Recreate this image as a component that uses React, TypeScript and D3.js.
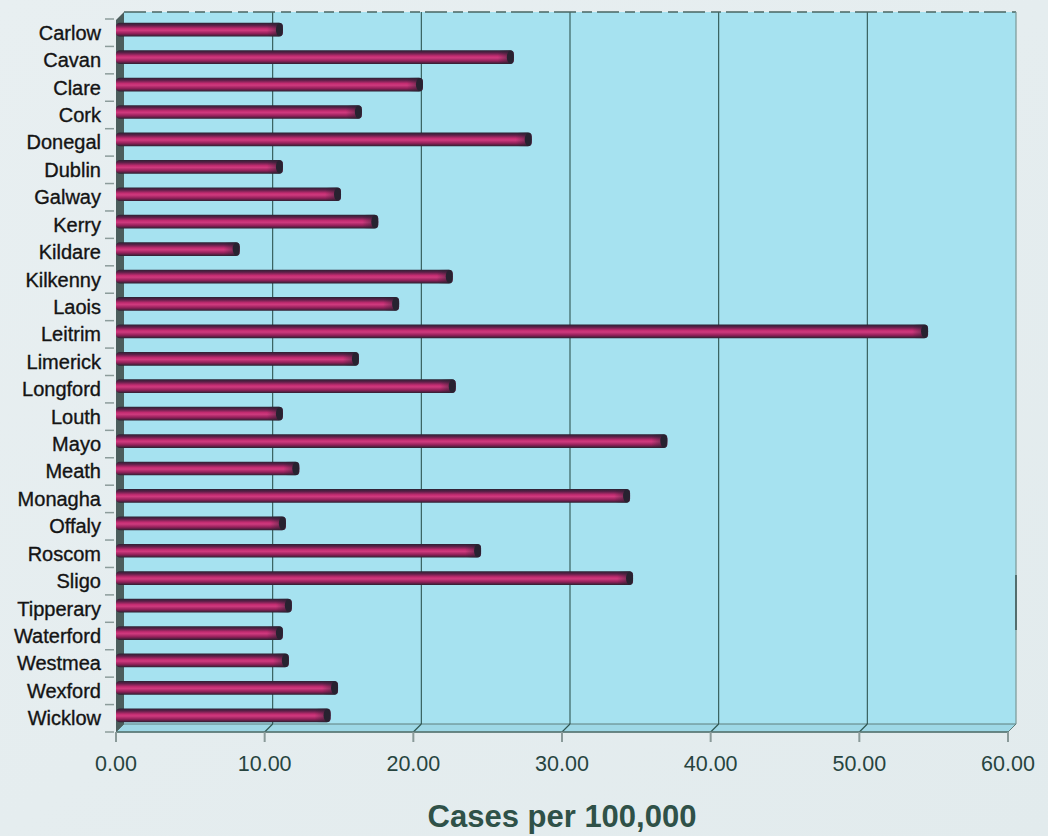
import React from "react";
import * as d3 from "d3";

// Counties and rates (cases per 100,000)
const categories = [
  "Carlow", "Cavan", "Clare", "Cork", "Donegal", "Dublin", "Galway", "Kerry",
  "Kildare", "Kilkenny", "Laois", "Leitrim", "Limerick", "Longford", "Louth",
  "Mayo", "Meath", "Monagha", "Offaly", "Roscom", "Sligo", "Tipperary",
  "Waterford", "Westmea", "Wexford", "Wicklow",
];
const values = [
  11.0, 26.5, 20.4, 16.3, 27.7, 11.0, 14.9, 17.4,
  8.1, 22.4, 18.8, 54.3, 16.1, 22.6, 11.0,
  36.8, 12.1, 34.3, 11.2, 24.3, 34.5, 11.6,
  11.0, 11.4, 14.7, 14.2,
];
const xTicks = [0, 10, 20, 30, 40, 50, 60];
const gridTicks = [10, 20, 30, 40, 50];
const xTitle = "Cases per 100,000";

const W = 1048;
const H = 836;
const DEPTH = 8; // 3D offset of the back wall
const WALL_TOP = 12;
const FLOOR_FRONT = 732;
const FLOOR_BACK = FLOOR_FRONT - DEPTH;

export default function App() {
  const xFront = d3.scaleLinear().domain([0, 60]).range([116, 1008]);
  const xBack = d3.scaleLinear().domain([0, 60]).range([116 + DEPTH, 1008 + DEPTH]);
  const xBar = d3.scaleLinear().domain([0, 60]).range([119, 1013]);
  const y = d3
    .scaleBand<string>()
    .domain(categories)
    .range([19, FLOOR_FRONT])
    .paddingInner(0.5)
    .paddingOuter(0.25);
  const step = y.step();
  const bw = y.bandwidth();
  const data = categories.map((c, i) => ({ c, v: values[i] }));

  return (
    <svg
      width={W}
      height={H}
      style={{ position: "absolute", left: 0, top: 0, display: "block" }}
      fontFamily="'Liberation Sans', Arial, sans-serif"
    >
      <defs>
        <linearGradient id="barGrad" x1="0" y1="0" x2="0" y2="1">
          <stop offset="0%" stopColor="#2a2333" />
          <stop offset="18%" stopColor="#5c1f48" />
          <stop offset="42%" stopColor="#c32c71" />
          <stop offset="55%" stopColor="#cf3a7e" />
          <stop offset="78%" stopColor="#93205a" />
          <stop offset="100%" stopColor="#2a2030" />
        </linearGradient>
        <linearGradient id="endShade" x1="0" y1="0" x2="1" y2="0">
          <stop offset="0%" stopColor="#2a2231" stopOpacity="0" />
          <stop offset="100%" stopColor="#2a2231" stopOpacity="0.75" />
        </linearGradient>
        <linearGradient id="pageBg" x1="0" y1="0" x2="1" y2="1">
          <stop offset="0%" stopColor="#e8eff1" />
          <stop offset="100%" stopColor="#e2ebed" />
        </linearGradient>
      </defs>

      <rect x={0} y={0} width={W} height={H} fill="url(#pageBg)" />

      {/* back wall */}
      <rect
        x={xBack(0)}
        y={WALL_TOP}
        width={xBack(60) - xBack(0)}
        height={FLOOR_BACK - WALL_TOP}
        fill="#a6e2f0"
      />
      {/* floor */}
      <polygon
        points={`${xBack(0)},${FLOOR_BACK} ${xBack(60)},${FLOOR_BACK} ${xFront(60)},${FLOOR_FRONT} ${xFront(0)},${FLOOR_FRONT}`}
        fill="#9ed8e6"
        stroke="#5f7f7c"
        strokeWidth={1}
      />
      {/* gridlines on wall and floor */}
      {gridTicks.map((t) => (
        <g key={t} stroke="#2e5551" strokeWidth={1.1}>
          <line x1={xBack(t)} x2={xBack(t)} y1={WALL_TOP} y2={FLOOR_BACK} />
          <line x1={xBack(t)} x2={xFront(t)} y1={FLOOR_BACK} y2={FLOOR_FRONT} />
        </g>
      ))}
      {/* top edge and right edge of wall */}
      <line
        x1={xBack(0)}
        x2={xBack(60)}
        y1={WALL_TOP}
        y2={WALL_TOP}
        stroke="#4a6562"
        strokeWidth={1.3}
        strokeDasharray="22 6 10 5"
      />
      <line
        x1={xBack(60)}
        x2={xBack(60)}
        y1={WALL_TOP}
        y2={FLOOR_BACK}
        stroke="#7a9896"
        strokeWidth={1.2}
      />
      <line
        x1={xBack(60)}
        x2={xBack(60)}
        y1={575}
        y2={630}
        stroke="#3c5654"
        strokeWidth={1.5}
      />
      {/* left side wall */}
      <polygon
        points={`${xFront(0)},${WALL_TOP + DEPTH} ${xBack(0)},${WALL_TOP} ${xBack(0)},${FLOOR_BACK} ${xFront(0)},${FLOOR_FRONT}`}
        fill="#4b5d5c"
      />

      {/* bars */}
      {data.map((d) => {
        const cy = (y(d.c) as number) + bw / 2 - 3;
        const x0 = xFront(0);
        const x1 = xBar(d.v);
        const shadeW = Math.min(16, x1 - x0);
        return (
          <g key={d.c}>
            <rect
              x={x0}
              y={cy - bw / 2}
              width={x1 - x0}
              height={bw}
              rx={4}
              fill="url(#barGrad)"
            />
            <rect
              x={x1 - shadeW}
              y={cy - bw / 2}
              width={shadeW}
              height={bw}
              rx={4}
              fill="url(#endShade)"
            />
            <ellipse cx={x1 - 3.5} cy={cy} rx={3.5} ry={bw / 2 - 0.5} fill="#272230" />
          </g>
        );
      })}

      {/* category ticks */}
      {d3.range(categories.length + 1).map((k) => {
        const ty = 19 + k * step;
        return (
          <line
            key={k}
            x1={105}
            x2={114}
            y1={ty}
            y2={ty}
            stroke="#8c9c9b"
            strokeWidth={1.5}
          />
        );
      })}

      {/* category labels */}
      {data.map((d) => (
        <text
          key={d.c}
          x={101}
          y={(y(d.c) as number) + bw / 2}
          textAnchor="end"
          dominantBaseline="central"
          fontSize={20}
          fill="#141414"
          stroke="#141414"
          strokeWidth={0.35}
        >
          {d.c}
        </text>
      ))}

      {/* value axis */}
      <line
        x1={xFront(0)}
        x2={xFront(60)}
        y1={FLOOR_FRONT}
        y2={FLOOR_FRONT}
        stroke="#5a7876"
        strokeWidth={1.5}
      />
      {xTicks.map((t) => (
        <g key={t}>
          <line
            x1={xFront(t)}
            x2={xFront(t)}
            y1={FLOOR_FRONT}
            y2={FLOOR_FRONT + 10}
            stroke="#8a9a99"
            strokeWidth={2}
          />
          <text
            x={xFront(t)}
            y={771}
            textAnchor="middle"
            fontSize={21.5}
            fill="#27443f"
          >
            {d3.format(".2f")(t)}
          </text>
        </g>
      ))}

      <text
        x={562}
        y={827}
        textAnchor="middle"
        fontSize={31}
        fontWeight="bold"
        fill="#2f5148"
      >
        {xTitle}
      </text>
    </svg>
  );
}
